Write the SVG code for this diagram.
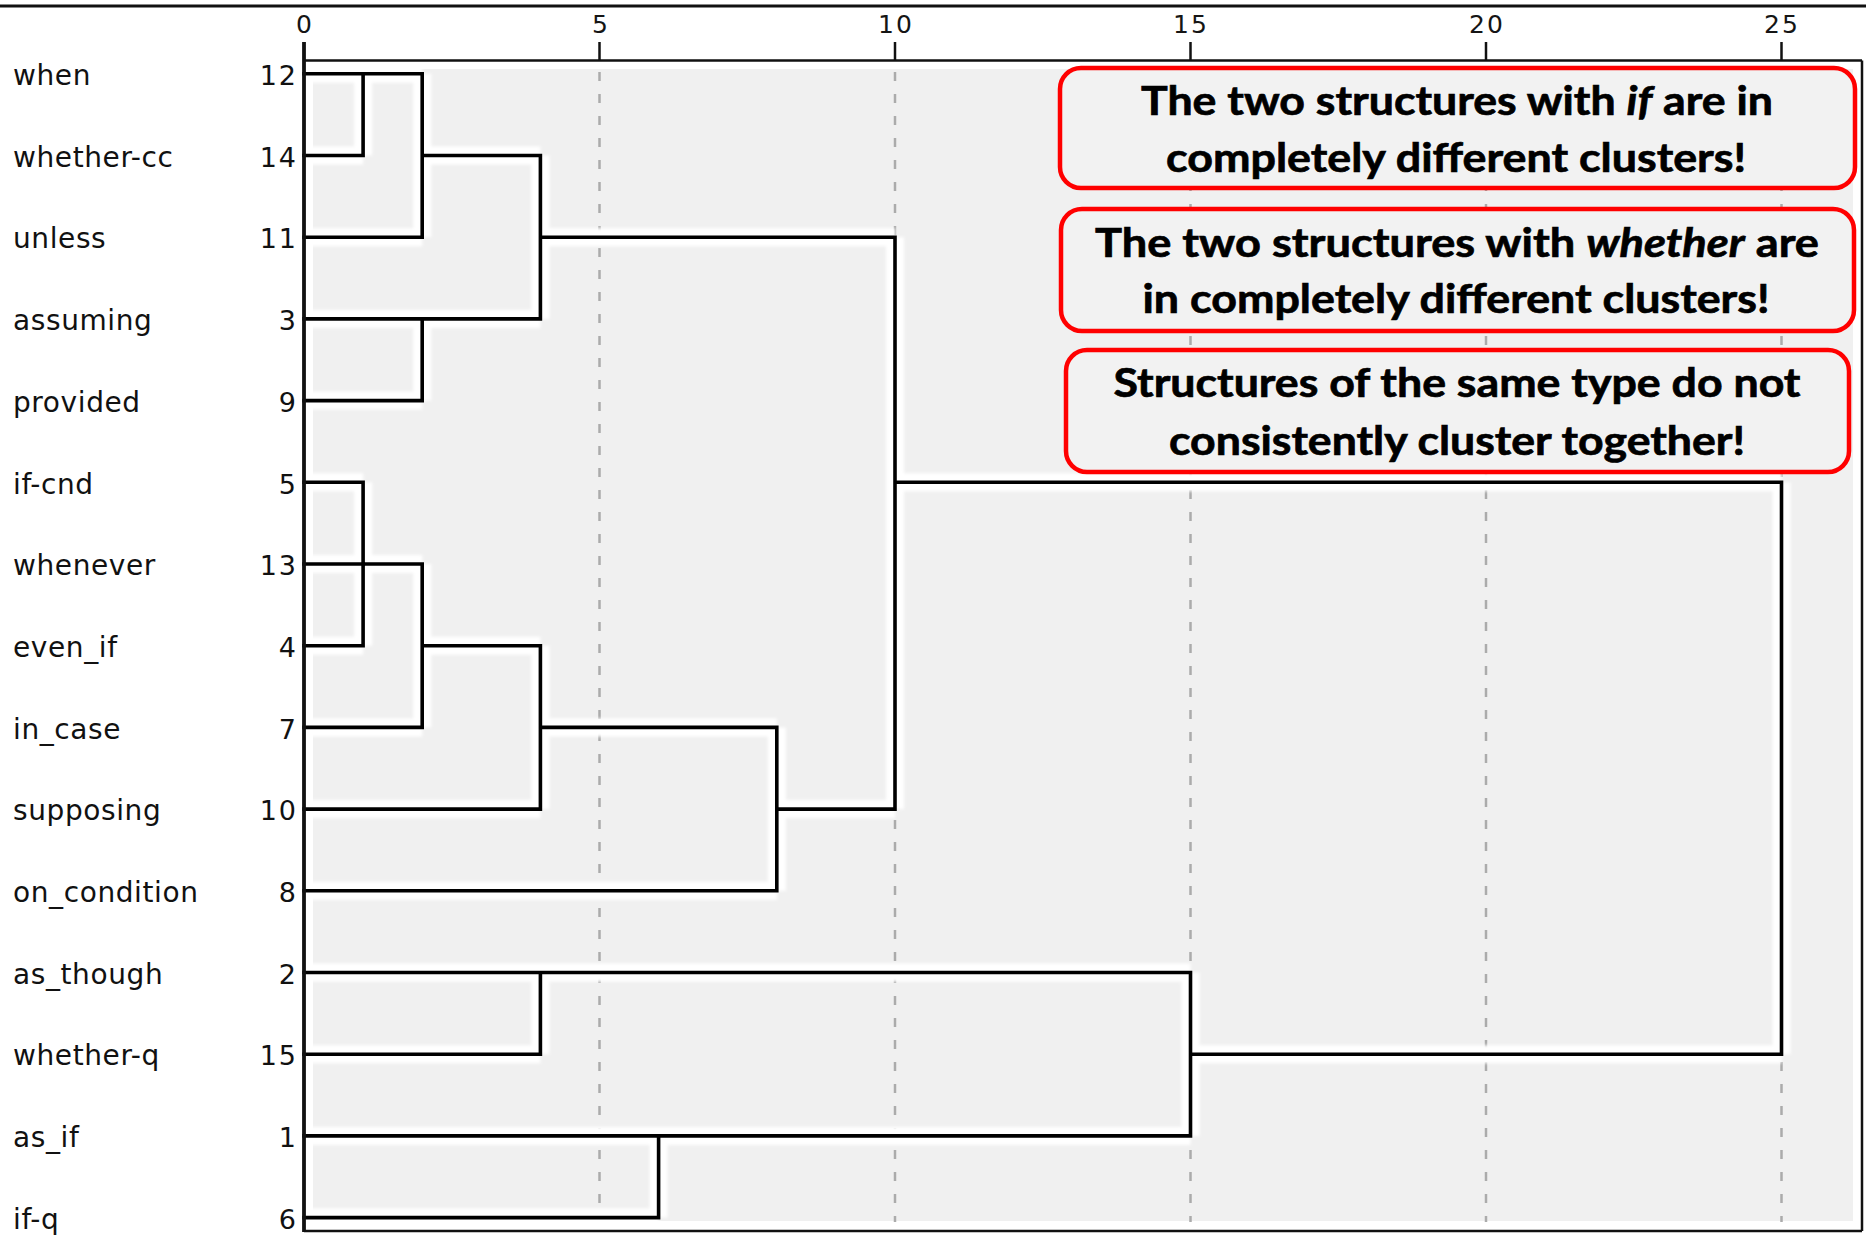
<svg xmlns="http://www.w3.org/2000/svg" width="1866" height="1239" viewBox="0 0 1866 1239">
  <defs>
    <style>
      .lbl { font-family: "DejaVu Sans", "Liberation Sans", sans-serif; font-size: 28px; letter-spacing: 0.6px; fill: #111111; }
      .num { font-family: "DejaVu Sans", "Liberation Sans", sans-serif; font-size: 27px; letter-spacing: 2px; fill: #111111; text-anchor: end; }
      .tick { font-family: "DejaVu Sans", "Liberation Sans", sans-serif; font-size: 25px; letter-spacing: 2px; fill: #151515; text-anchor: middle; }
      .grid { stroke: #ababab; stroke-width: 2.5; stroke-dasharray: 9 13; fill: none; }
      .halo { stroke: #ffffff; stroke-width: 18; fill: none; stroke-linejoin: miter; }
      .link { stroke: #000000; stroke-width: 3.6; fill: none; stroke-linejoin: miter; stroke-linecap: square; }
      .frame { stroke: #111111; fill: none; }
      .callout rect { fill: #f2f2f2; stroke: #ff0000; stroke-width: 4.5; }
      .callout text { font-family: Lato, "Open Sans", "Liberation Sans", sans-serif; font-weight: 700; font-size: 41px; fill: #000000; stroke: #000000; stroke-width: 0.7; text-anchor: middle; }
      .callout tspan.em { font-style: italic; }
    </style>
    <filter id="soft" x="-5%" y="-5%" width="110%" height="110%">
      <feGaussianBlur stdDeviation="1.6"/>
    </filter>
  </defs>

  <rect x="0" y="0" width="1866" height="1239" fill="#ffffff"/>

  <!-- top rule -->
  <line x1="0" y1="6" x2="1866" y2="6" stroke="#111" stroke-width="3"/>

  <!-- plot area: white frame with a grey field inside -->
  <rect x="304" y="60.5" width="1558" height="1170.5" fill="#ffffff"/>
  <rect x="313" y="69" width="1540" height="1152" fill="#f0f0f0"/>

  <!-- dashed grid at 5, 10, 15, 20, 25 -->
  <g id="grid">
    <line class="grid" x1="599.5" y1="72" x2="599.5" y2="1222"/>
    <line class="grid" x1="895" y1="72" x2="895" y2="1222"/>
    <line class="grid" x1="1190.5" y1="72" x2="1190.5" y2="1222"/>
    <line class="grid" x1="1486" y1="72" x2="1486" y2="1222"/>
    <line class="grid" x1="1781.5" y1="72" x2="1781.5" y2="1222"/>
  </g>

  <!-- dendrogram links; x = 304 + 59.1*distance, rows every 81.7 px from 73.8 -->
  <g id="connectors">
    <path class="halo" filter="url(#soft)" d="
      M304,73.8 H422.2 M363.1,73.8 V155.5 M304,155.5 H363.1 M422.2,73.8 V237.2 M304,237.2 H422.2
      M422.2,155.5 H540.4 M540.4,155.5 V318.9 M304,318.9 H540.4 M422.2,318.9 V400.6 M304,400.6 H422.2
      M540.4,237.2 H895 M895,237.2 V809.1
      M304,482.3 H363.1 M363.1,482.3 V645.7 M304,645.7 H363.1 M304,564 H422.2 M422.2,564 V727.4 M304,727.4 H422.2
      M422.2,645.7 H540.4 M540.4,645.7 V809.1 M304,809.1 H540.4 M540.4,727.4 H776.8 M776.8,727.4 V890.8 M304,890.8 H776.8
      M776.8,809.1 H895
      M895,482.3 H1781.5 M1781.5,482.3 V1054.2 M1190.5,1054.2 H1781.5
      M304,972.5 H1190.5 M540.4,972.5 V1054.2 M304,1054.2 H540.4 M1190.5,972.5 V1135.9 M304,1135.9 H1190.5
      M658.6,1135.9 V1217.6 M304,1217.6 H658.6"/>
    <path class="link" d="
      M304,73.8 H422.2 M363.1,73.8 V155.5 M304,155.5 H363.1 M422.2,73.8 V237.2 M304,237.2 H422.2
      M422.2,155.5 H540.4 M540.4,155.5 V318.9 M304,318.9 H540.4 M422.2,318.9 V400.6 M304,400.6 H422.2
      M540.4,237.2 H895 M895,237.2 V809.1
      M304,482.3 H363.1 M363.1,482.3 V645.7 M304,645.7 H363.1 M304,564 H422.2 M422.2,564 V727.4 M304,727.4 H422.2
      M422.2,645.7 H540.4 M540.4,645.7 V809.1 M304,809.1 H540.4 M540.4,727.4 H776.8 M776.8,727.4 V890.8 M304,890.8 H776.8
      M776.8,809.1 H895
      M895,482.3 H1781.5 M1781.5,482.3 V1054.2 M1190.5,1054.2 H1781.5
      M304,972.5 H1190.5 M540.4,972.5 V1054.2 M304,1054.2 H540.4 M1190.5,972.5 V1135.9 M304,1135.9 H1190.5
      M658.6,1135.9 V1217.6 M304,1217.6 H658.6"/>
  </g>

  <!-- axis and frame -->
  <g id="axis">
    <line class="frame" x1="304" y1="60.5" x2="1862" y2="60.5" stroke-width="2.5"/>
    <line class="frame" x1="1862" y1="60.5" x2="1862" y2="1231" stroke-width="2.5"/>
    <line class="frame" x1="304" y1="1231" x2="1862" y2="1231" stroke-width="2.5"/>
    <line class="frame" x1="304" y1="42" x2="304" y2="1232" stroke-width="3.8"/>
    <line class="frame" x1="599.5" y1="42" x2="599.5" y2="60.5" stroke-width="2.5"/>
    <line class="frame" x1="895" y1="42" x2="895" y2="60.5" stroke-width="2.5"/>
    <line class="frame" x1="1190.5" y1="42" x2="1190.5" y2="60.5" stroke-width="2.5"/>
    <line class="frame" x1="1486" y1="42" x2="1486" y2="60.5" stroke-width="2.5"/>
    <line class="frame" x1="1781.5" y1="42" x2="1781.5" y2="60.5" stroke-width="2.5"/>
    <text class="tick" x="305" y="33">0</text>
    <text class="tick" x="601" y="33">5</text>
    <text class="tick" x="896" y="33">10</text>
    <text class="tick" x="1191" y="33">15</text>
    <text class="tick" x="1487" y="33">20</text>
    <text class="tick" x="1782" y="33">25</text>
  </g>

  <!-- leaves -->
  <g id="leaf-when"><text class="lbl" x="13" y="85">when</text><text class="num" x="298" y="85">12</text></g>
  <g id="leaf-whether-cc"><text class="lbl" x="13" y="166.7">whether-cc</text><text class="num" x="298" y="166.7">14</text></g>
  <g id="leaf-unless"><text class="lbl" x="13" y="248.4">unless</text><text class="num" x="298" y="248.4">11</text></g>
  <g id="leaf-assuming"><text class="lbl" x="13" y="330.1">assuming</text><text class="num" x="298" y="330.1">3</text></g>
  <g id="leaf-provided"><text class="lbl" x="13" y="411.8">provided</text><text class="num" x="298" y="411.8">9</text></g>
  <g id="leaf-if-cnd"><text class="lbl" x="13" y="493.5">if-cnd</text><text class="num" x="298" y="493.5">5</text></g>
  <g id="leaf-whenever"><text class="lbl" x="13" y="575.2">whenever</text><text class="num" x="298" y="575.2">13</text></g>
  <g id="leaf-even_if"><text class="lbl" x="13" y="656.9">even_if</text><text class="num" x="298" y="656.9">4</text></g>
  <g id="leaf-in_case"><text class="lbl" x="13" y="738.6">in_case</text><text class="num" x="298" y="738.6">7</text></g>
  <g id="leaf-supposing"><text class="lbl" x="13" y="820.3">supposing</text><text class="num" x="298" y="820.3">10</text></g>
  <g id="leaf-on_condition"><text class="lbl" x="13" y="902">on_condition</text><text class="num" x="298" y="902">8</text></g>
  <g id="leaf-as_though"><text class="lbl" x="13" y="983.7">as_though</text><text class="num" x="298" y="983.7">2</text></g>
  <g id="leaf-whether-q"><text class="lbl" x="13" y="1065.4">whether-q</text><text class="num" x="298" y="1065.4">15</text></g>
  <g id="leaf-as_if"><text class="lbl" x="13" y="1147.1">as_if</text><text class="num" x="298" y="1147.1">1</text></g>
  <g id="leaf-if-q"><text class="lbl" x="13" y="1228.8">if-q</text><text class="num" x="298" y="1228.8">6</text></g>

  <!-- callouts -->
  <g id="note-if" class="callout">
    <rect x="1060" y="68" width="795" height="120" rx="21"/>
    <text x="1457" y="115" textLength="632" lengthAdjust="spacingAndGlyphs">The two structures with <tspan class="em">if</tspan> are in</text>
    <text x="1456" y="172" textLength="580" lengthAdjust="spacingAndGlyphs">completely different clusters!</text>
  </g>
  <g id="note-whether" class="callout">
    <rect x="1061" y="209" width="793" height="122" rx="21"/>
    <text x="1457" y="257" textLength="724" lengthAdjust="spacingAndGlyphs">The two structures with <tspan class="em">whether</tspan> are</text>
    <text x="1456" y="313" textLength="627" lengthAdjust="spacingAndGlyphs">in completely different clusters!</text>
  </g>
  <g id="note-type" class="callout">
    <rect x="1066" y="350" width="783" height="122" rx="21"/>
    <text x="1457" y="397" textLength="687" lengthAdjust="spacingAndGlyphs">Structures of the same type do not</text>
    <text x="1457" y="455" textLength="576" lengthAdjust="spacingAndGlyphs">consistently cluster together!</text>
  </g>
</svg>
